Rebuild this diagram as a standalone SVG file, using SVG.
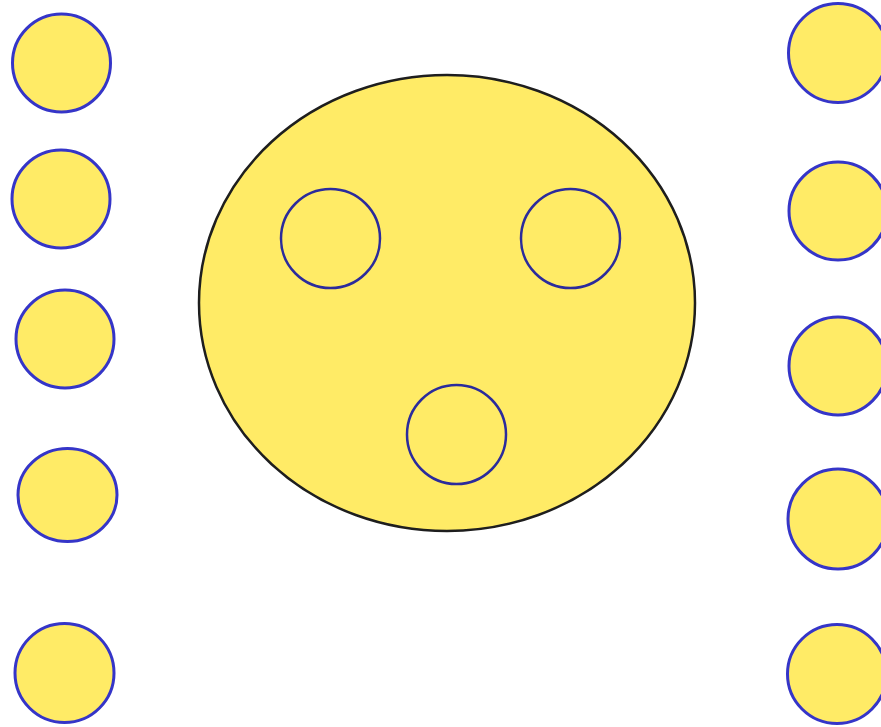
<svg xmlns="http://www.w3.org/2000/svg" width="881" height="727" viewBox="0 0 881 727">
<style>
.s{fill:#FFEB66;stroke:#3535C8;stroke-width:3}
.big{fill:#FFEB66;stroke:#1e1e1e;stroke-width:2.5}
.in{fill:none;stroke:#2B2B9C;stroke-width:2.5}
</style>
<rect width="881" height="727" fill="#ffffff"/>
<g id="big"><ellipse class="big" cx="447" cy="303" rx="248" ry="228"/></g>
<g id="inner1"><circle class="in" cx="330.5" cy="238.5" r="49.5"/></g>
<g id="inner2"><circle class="in" cx="570.5" cy="238.5" r="49.5"/></g>
<g id="inner3"><circle class="in" cx="456.5" cy="434.5" r="49.5"/></g>
<g id="L1"><circle class="s" cx="61.5" cy="63" r="49"/></g>
<g id="L2"><circle class="s" cx="61" cy="199" r="49"/></g>
<g id="L3"><circle class="s" cx="65" cy="339" r="49"/></g>
<g id="L4"><ellipse class="s" cx="67.5" cy="495" rx="49.5" ry="46.5"/></g>
<g id="L5"><circle class="s" cx="64.5" cy="673" r="49.5"/></g>
<g id="R1"><circle class="s" cx="838" cy="53" r="49.5"/></g>
<g id="R2"><circle class="s" cx="838" cy="211" r="49"/></g>
<g id="R3"><circle class="s" cx="838" cy="366" r="49"/></g>
<g id="R4"><circle class="s" cx="838" cy="519" r="50"/></g>
<g id="R5"><circle class="s" cx="837" cy="674" r="49.5"/></g>
<g id="connectors"></g>
</svg>
